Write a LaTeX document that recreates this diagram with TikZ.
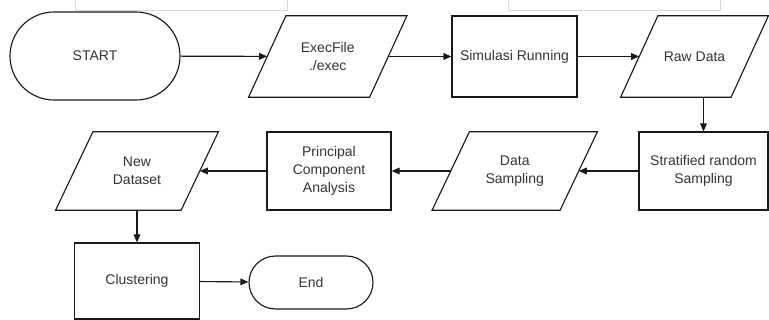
\documentclass[tikz,border=0pt]{standalone}
\usepackage{fontspec}
\setmainfont{Liberation Sans}
\usepackage{tikz}
\usetikzlibrary{arrows.meta}

\begin{document}
\begin{tikzpicture}
  [x=0.75pt,y=-0.75pt,
   every node/.style={font=\fontsize{10.5}{13.5}\selectfont,text=black!80,align=center},
   line/.style={draw=black!90,line width=0.85pt},
   flow/.style={line,-{Triangle[length=6pt,width=5pt]}},
   procbox/.style={line,rectangle,minimum width=#1,minimum height=58.5pt,inner sep=2pt},
   iobox/.style={rectangle,minimum width=#1,minimum height=58.5pt,inner sep=2pt},
   termbox/.style={line,rectangle,rounded corners=#1}
  ]
  \useasboundingbox (0,0) rectangle (769,320);

  % faint frame edges at the top
  \draw[black!15,line width=0.6pt] (75,0) -- (75,10) -- (287,10) -- (287,0);
  \draw[black!15,line width=0.6pt] (508,0) -- (508,10) -- (720,10) -- (720,0);

  % row 1
  \node[termbox=33pt,minimum width=127.5pt,minimum height=66pt] (start) at (95,56) {START};
  \node[iobox=90.4pt,minimum height=60.75pt] (exec) at (327.75,56.5) {ExecFile\\./exec};
  \node[procbox=93.75pt,minimum height=60.75pt] (sim) at (514.5,56.5) {Simulasi Running};
  \node[iobox=82.5pt,minimum height=60.75pt] (raw) at (694.5,56.5) {Raw Data};

  % row 2
  \node[procbox=96.75pt] (strat) at (703.5,171) {Stratified random\\Sampling};
  \node[iobox=95.6pt] (samp) at (514.75,171) {Data\\Sampling};
  \node[procbox=93pt] (pca) at (329,171) {Principal\\Component\\Analysis};
  \node[iobox=93.75pt] (newds) at (137,171) {New\\Dataset};

  % row 3
  \node[procbox=93.75pt,minimum height=57pt] (clus) at (137,281) {Clustering};
  \node[termbox=19.9pt,minimum width=93pt,minimum height=39.75pt] (end) at (311,282.5) {End};

  % slanted data boxes
  \foreach \n in {exec,raw,samp,newds}
    \draw[line] ([xshift=14pt]\n.north west) -- ([xshift=14pt]\n.north east)
      -- ([xshift=-14pt]\n.south east) -- ([xshift=-14pt]\n.south west) -- cycle;

  %connections
  \draw[flow] (start) -- (exec);
  \draw[flow] (exec) -- (sim);
  \draw[flow] (sim) -- (raw);
  \draw[flow] (strat.north |- raw.south) -- (strat.north);
  \draw[flow] (strat) -- (samp);
  \draw[flow] (samp) -- (pca);
  \draw[flow] (pca) -- (newds);
  \draw[flow] (newds) -- (clus);
  \draw[flow] (clus) -- (end);
\end{tikzpicture}
\end{document}
